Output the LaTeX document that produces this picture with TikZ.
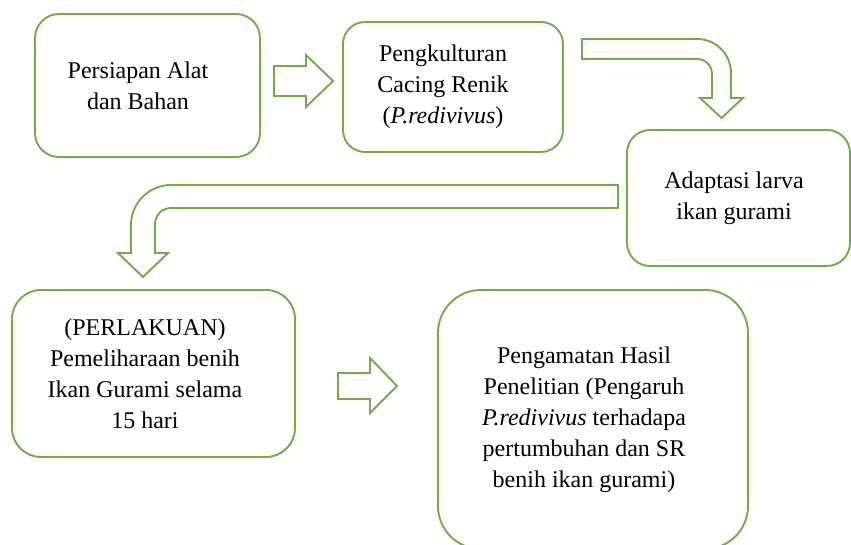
\documentclass[tikz,border=0pt]{standalone}
\usepackage{fontspec}
\setmainfont{Liberation Serif}
\definecolor{grn}{HTML}{70AD47}
\begin{document}
\begin{tikzpicture}[x=1pt,y=-1pt,
  box/.style={draw=grn,line width=1.9pt,rectangle,inner sep=0pt},
  txt/.style={align=center,inner sep=0pt,font=\fontsize{24}{31}\selectfont},
  blockarrow/.style={draw=grn,line width=1.9pt,line join=miter,fill=white}]
\useasboundingbox (0,0) rectangle (851,545);
% boxes
\node[box,minimum width=225pt,minimum height=143pt,rounded corners=24pt] (b1) at (147.5,85.5) {};
\node[box,minimum width=220pt,minimum height=130pt,rounded corners=22pt] (b2) at (453,87) {};
\node[box,minimum width=223pt,minimum height=136pt,rounded corners=23pt] (b3) at (738.5,198) {};
\node[box,minimum width=283pt,minimum height=167pt,rounded corners=29pt] (b4) at (153.5,373.5) {};
\node[box,minimum width=310pt,minimum height=259pt,rounded corners=43pt] (b5) at (593,419.5) {};
% texts
\node[txt] (t1) at ([xshift=-9.5pt]b1.center) {Persiapan Alat\\dan Bahan};
\node[txt] (t2) at ([xshift=-10pt]b2.center) {Pengkulturan\\Cacing Renik\\(\textit{P.redivivus})};
\node[txt] (t3) at ([xshift=-4.5pt]b3.center) {Adaptasi larva\\ikan gurami};
\node[txt] (t4) at ([xshift=-8.5pt]b4.center) {(PERLAKUAN)\\Pemeliharaan benih\\Ikan Gurami selama\\15 hari};
\node[txt] (t5) at ([xshift=-9pt]b5.center) {Pengamatan Hasil\\Penelitian (Pengaruh\\\textit{P.redivivus} terhadapa\\pertumbuhan dan SR\\benih ikan gurami)};
% arrow 1: b1 -> b2
\draw[blockarrow] (274,66) -- (306,66) -- (306,55) -- (333,81) -- (306,107) -- (306,96) -- (274,96) -- cycle;
% arrow 2: b2 -> b3 (bent)
\draw[blockarrow] (582,39) [rounded corners=34pt] -- (731,39) [sharp corners] -- (731,98) -- (743,98) -- (721.5,118) -- (700,98) -- (712,98) [rounded corners=15pt] -- (712,59) [sharp corners] -- (582,59) -- cycle;
% arrow 3: b3 -> b4 (bent)
\draw[blockarrow] (618,185) [rounded corners=40pt] -- (131,185) [sharp corners] -- (131,253) -- (118,253) -- (143,277) -- (168,253) -- (155,253) [rounded corners=16pt] -- (155,208) [sharp corners] -- (618,208) -- cycle;
% arrow 4: b4 -> b5
\draw[blockarrow] (338,373) -- (370,373) -- (370,358) -- (397,386) -- (370,413) -- (370,399) -- (338,399) -- cycle;
\end{tikzpicture}
\end{document}
